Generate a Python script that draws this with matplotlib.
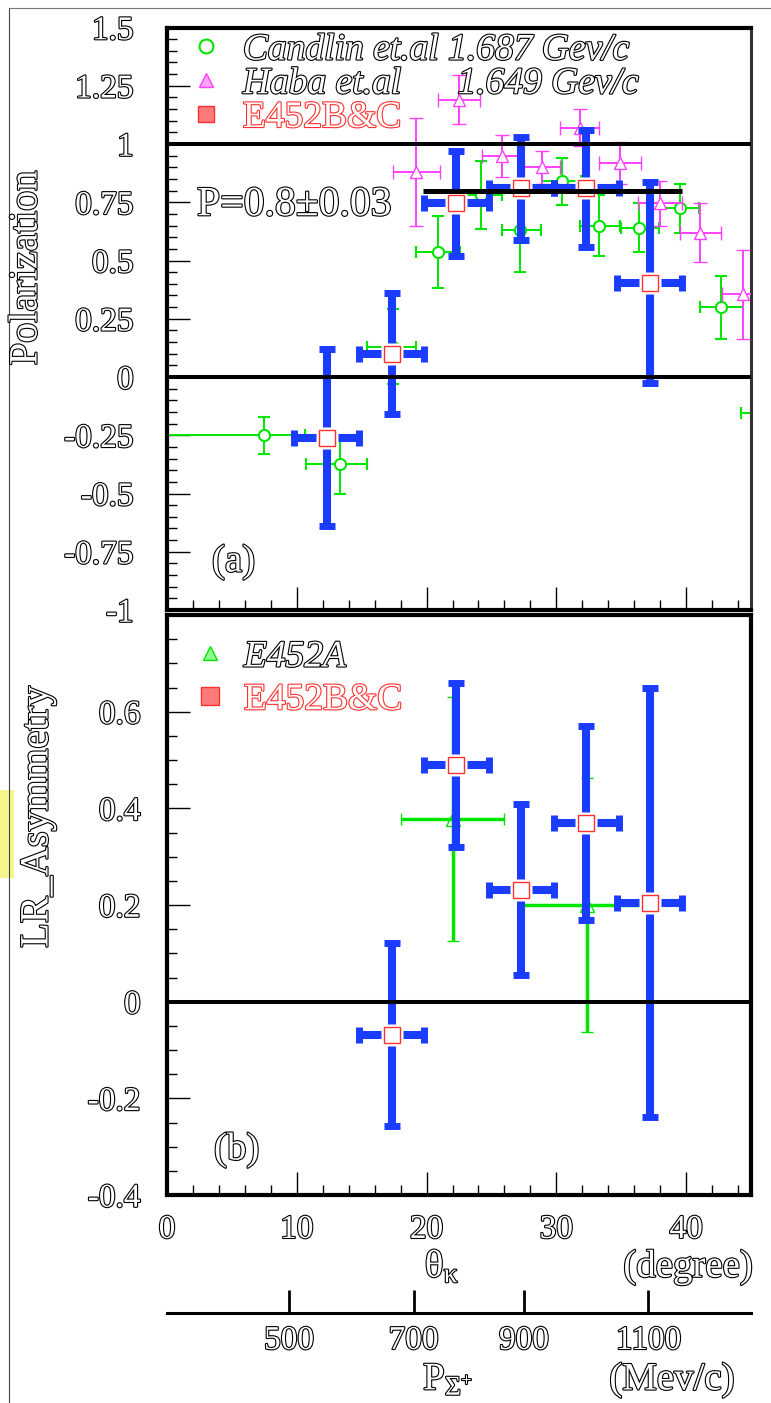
import matplotlib
matplotlib.use('Agg')
import matplotlib.pyplot as plt
import matplotlib.patheffects as pe
from matplotlib.lines import Line2D
from matplotlib.patches import Rectangle
from matplotlib.ticker import MultipleLocator

plt.rcParams['font.family'] = ['Liberation Serif', 'DejaVu Serif']
plt.rcParams['mathtext.fontset'] = 'custom'
plt.rcParams['mathtext.rm'] = 'Liberation Serif'
plt.rcParams['mathtext.it'] = 'Liberation Serif:italic'

# ---- (a) polarization ----
# Candlin et.al 1.687 GeV/c
candlin_theta = [7.5, 13.3, 17.4, 20.9, 24.2, 27.2, 30.4, 33.3, 36.4, 39.5, 42.7, 46.0]
candlin_pol = [-0.25, -0.375, 0.13, 0.535, 0.78, 0.63, 0.84, 0.65, 0.64, 0.725, 0.30, -0.155]
candlin_dth_lo = [7.5, 2.6, 2.0, 1.7, 1.6, 1.4, 1.5, 1.5, 1.4, 1.5, 1.6, 1.8]
candlin_dth_hi = [3.1, 2.1, 1.8, 1.7, 1.6, 1.6, 1.5, 1.6, 1.5, 1.5, 1.7, 1.8]
candlin_dpol = [0.08, 0.125, 0.16, 0.155, 0.145, 0.18, 0.10, 0.13, 0.105, 0.105, 0.135, 0.10]

# Haba et.al 1.649 GeV/c
haba_theta = [19.2, 22.5, 25.8, 28.9, 31.8, 34.9, 38.0, 41.1, 44.4]
haba_pol = [0.88, 1.19, 0.95, 0.90, 1.07, 0.92, 0.745, 0.62, 0.355]
haba_dth = [1.8, 1.6, 1.5, 1.4, 1.5, 1.6, 1.7, 1.6, 1.6]
haba_dpol = [0.23, 0.105, 0.09, 0.07, 0.08, 0.09, 0.095, 0.125, 0.19]

# E452B&C
e452_theta = [12.3, 17.3, 22.3, 27.3, 32.3, 37.2]
e452_dth = [2.5, 2.5, 2.5, 2.5, 2.5, 2.5]
e452_pol = [-0.26, 0.10, 0.745, 0.81, 0.81, 0.405]
e452_dpol = [0.38, 0.26, 0.225, 0.22, 0.25, 0.43]

# fit P = 0.8 +- 0.03
fit_theta = [19.7, 39.7]
fit_pol = [0.8, 0.8]

# ---- (b) LR asymmetry ----
lr_theta = [17.3, 22.3, 27.3, 32.3, 37.2]
lr_dth = [2.5, 2.5, 2.5, 2.5, 2.5]
lr_val = [-0.068, 0.49, 0.232, 0.37, 0.205]
lr_dval = [0.19, 0.17, 0.176, 0.20, 0.443]

a_theta = [22.0, 32.4]
a_dth = [4.0, 5.0]
a_val = [0.378, 0.20]
a_dval = [0.253, 0.262]

# momentum scale under the angle axis
p_labels = ['500', '700', '900', '1100']
p_theta = [9.4, 19.0, 27.5, 37.1]

pol_ticks = [-1, -0.75, -0.5, -0.25, 0, 0.25, 0.5, 0.75, 1, 1.25, 1.5]
pol_labels = ['-1', '-0.75', '-0.5', '-0.25', '0', '0.25', '0.5', '0.75', '1', '1.25', '1.5']
lr_ticks = [-0.4, -0.2, 0, 0.2, 0.4, 0.6]
lr_labels = ['-0.4', '-0.2', '0', '0.2', '0.4', '0.6']

GREEN = '#00e600'
MAG = '#ff40ff'
BLUE = '#1a3cff'
RED = '#ff3030'

W, H = 771, 1403


def fx(px):
    return px / W


def fy(py):
    return 1 - py / H


def hollow(col='black', lw=1.6):
    return [pe.Stroke(linewidth=lw, foreground=col), pe.Normal()]


def otext(x, y, s, size, col='black', **kw):
    t = fig.text(fx(x), fy(y), s, fontsize=size, color='white', **kw)
    t.set_path_effects(hollow(col))
    return t


fig = plt.figure(figsize=(W / 100, H / 100), dpi=100)

# page frame
fig.add_artist(Line2D([fx(9), fx(9)], [fy(8), 0], color='#444444', lw=0.8))
fig.add_artist(Line2D([fx(9), 1], [fy(8), fy(8)], color='#777777', lw=0.8))
fig.add_artist(Rectangle((0, fy(878)), fx(14), (878 - 790) / H, color='#f6f68c', lw=0))

ax1 = fig.add_axes([fx(167), fy(610), fx(751) - fx(167), (610 - 27.5) / H])
ax2 = fig.add_axes([fx(167), fy(1195), fx(751) - fx(167), (1195 - 615) / H])

for ax in (ax1, ax2):
    ax.set_xlim(0, 45)
    ax.xaxis.set_major_locator(MultipleLocator(10))
    ax.xaxis.set_minor_locator(MultipleLocator(2))
    for s in ax.spines.values():
        s.set_linewidth(3.0)
    ax.tick_params(which='both', direction='in', width=1, top=False, right=False)
    ax.tick_params(which='major', length=16.5)
    ax.tick_params(which='minor', length=7.5)
ax1.spines['right'].set_linewidth(2.2)
ax1.spines['right'].set_color('#333333')

# ---- panel (a) ----
ax1.set_ylim(-1, 1.5)
ax1.set_yticks(pol_ticks, pol_labels)
ax1.yaxis.set_minor_locator(MultipleLocator(0.05))
ax1.tick_params(axis='y', labelsize=24, pad=24)
ax1.tick_params(axis='x', labelbottom=False)

ax1.errorbar(candlin_theta, candlin_pol, xerr=[candlin_dth_lo, candlin_dth_hi], yerr=candlin_dpol,
             fmt='o', ms=8, mfc='white', mec=GREEN, mew=1.5, ecolor=GREEN, elinewidth=1.4,
             capsize=4.3, capthick=1.4, zorder=2)
ax1.errorbar(haba_theta, haba_pol, xerr=haba_dth, yerr=haba_dpol,
             fmt='^', ms=9, mfc='white', mec=MAG, mew=1.0, ecolor=MAG, elinewidth=1.4,
             capsize=4.7, capthick=1.4, zorder=3)
ax1.errorbar(e452_theta, e452_pol, xerr=e452_dth, yerr=e452_dpol, fmt='none',
             ecolor=BLUE, elinewidth=5.8, capsize=5.8, capthick=5, zorder=4)
ax1.plot(e452_theta, e452_pol, 's', ms=16, mfc='white', mec='none', zorder=4.5)
ax1.plot(e452_theta, e452_pol, 's', ms=12, mfc='white', mec=RED, mew=1.0, zorder=5)
ax1.plot(fit_theta, fit_pol, color='black', lw=3.6, zorder=6, solid_capstyle='butt')
ax1.axhline(0, color='black', lw=2.9, zorder=6)
ax1.axhline(1, color='black', lw=2.9, zorder=6)

h1 = [Line2D([], [], ls='none', marker='o', ms=10, mfc='white', mec=GREEN, mew=1.5),
      Line2D([], [], ls='none', marker='^', ms=10, mfc='#ffa0ff', mec=MAG, mew=1.0),
      Line2D([], [], ls='none', marker='s', ms=12, mfc='#ff7a7a', mec=RED, mew=1.0)]
leg1 = ax1.legend(h1, ['Candlin et.al 1.687 Gev/c', 'Haba et.al      1.649 Gev/c', 'E452B&C'],
                  loc='upper left', bbox_to_anchor=((187 - 167) / 584, 1 - (33 - 27.5) / 582.5),
                  frameon=False, fontsize=27, handlelength=1.0, handletextpad=0.49,
                  labelspacing=-0.02, borderpad=0, borderaxespad=0)
for t, style, col in zip(leg1.get_texts(), ['italic', 'italic', 'normal'], ['black', 'black', RED]):
    t.set_color('white')
    t.set_fontstyle(style)
    t.set_path_effects(hollow(col))

# ---- panel (b) ----
ax2.set_ylim(-0.4, 0.8)
ax2.set_yticks(lr_ticks, lr_labels)
ax2.yaxis.set_minor_locator(MultipleLocator(0.05))
ax2.tick_params(axis='y', labelsize=24, pad=19)
ax2.tick_params(axis='x', labelsize=24, pad=14)

ax2.errorbar(a_theta, a_val, xerr=a_dth, yerr=a_dval, fmt='^', ms=10, mfc='none', mec=GREEN,
             mew=1.0, ecolor=GREEN, elinewidth=2.5, capsize=4.3, capthick=2.5, zorder=2)
ax2.errorbar(lr_theta, lr_val, xerr=lr_dth, yerr=lr_dval, fmt='none',
             ecolor=BLUE, elinewidth=5.8, capsize=5.8, capthick=5, zorder=4)
ax2.plot(lr_theta, lr_val, 's', ms=16, mfc='white', mec='none', zorder=4.5)
ax2.plot(lr_theta, lr_val, 's', ms=12, mfc='white', mec=RED, mew=1.0, zorder=5)
ax2.axhline(0, color='black', lw=2.9, zorder=6)

h2 = [Line2D([], [], ls='none', marker='^', ms=10, mfc='#90ff90', mec=GREEN, mew=1.0),
      Line2D([], [], ls='none', marker='s', ms=13, mfc='#ff7a7a', mec=RED, mew=1.0)]
leg2 = ax2.legend(h2, ['E452A', 'E452B&C'], loc='upper left',
                  bbox_to_anchor=((191 - 167) / 584, 1 - (640 - 615) / 580),
                  frameon=False, fontsize=27, handlelength=1.0, handletextpad=0.41,
                  labelspacing=0.22, borderpad=0, borderaxespad=0)
for t, style, col in zip(leg2.get_texts(), ['italic', 'normal'], ['black', RED]):
    t.set_color('white')
    t.set_fontstyle(style)
    t.set_path_effects(hollow(col))

for ax in (ax1, ax2):
    for t in ax.get_yticklabels() + ax.get_xticklabels():
        t.set_color('white')
        t.set_path_effects(hollow())

# ---- momentum scale ----
ax3 = fig.add_axes([fx(167), fy(1313), fx(751) - fx(167), 0.02])
ax3.set_xlim(0, 45)
ax3.patch.set_visible(False)
for k in ('top', 'left', 'right'):
    ax3.spines[k].set_visible(False)
ax3.spines['bottom'].set_linewidth(2.2)
ax3.set_yticks([])
ax3.set_xticks(p_theta, p_labels)
ax3.tick_params(axis='x', direction='in', length=16.5, width=2, labelsize=24, pad=9)
for t in ax3.get_xticklabels():
    t.set_color('white')
    t.set_path_effects(hollow())

# ---- texts ----
otext(197, 205, 'P=0.8±0.03', 30, va='center', ha='left')
otext(212, 562, '(a)', 28, va='center', ha='left')
otext(214, 1150, '(b)', 28, va='center', ha='left')
otext(442, 1267, r'$\mathrm{\theta_{\kappa}}$', 28, va='center', ha='center')
otext(688, 1267, '(degree)', 28, va='center', ha='center')
otext(448, 1380, r'P$_{\Sigma^{+}}$', 28, va='center', ha='center')
otext(672, 1380, '(Mev/c)', 28, va='center', ha='center')
otext(27, 268, 'Polarization', 29, va='center', ha='center', rotation=90)
otext(38, 817, 'LR_Asymmetry', 29, va='center', ha='center', rotation=90)

fig.savefig('out.png', dpi=100)
